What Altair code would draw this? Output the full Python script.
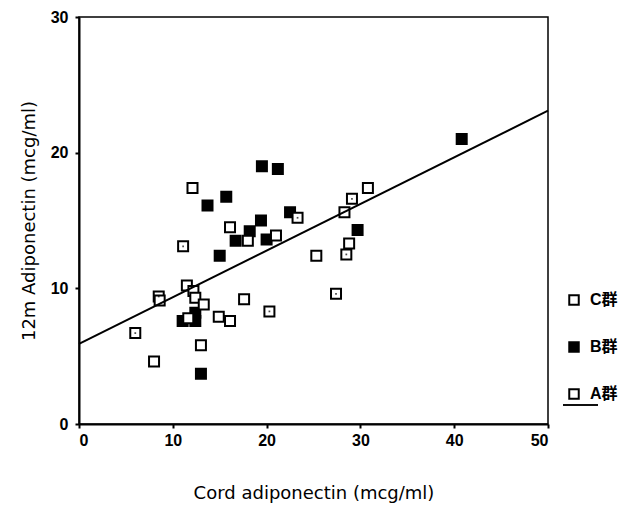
import altair as alt
import pandas as pd

# Group B (filled squares)
b_x = [40.8, 19.5, 21.2, 15.7, 13.7, 22.5, 19.4, 18.2, 16.7, 20.0, 15.0, 29.7, 12.4, 12.4, 11.05, 13.0]
b_y = [21.0, 19.0, 18.8, 16.75, 16.1, 15.6, 15.0, 14.2, 13.5, 13.6, 12.4, 14.3, 8.2, 7.6, 7.6, 3.7]

# Group C (open squares with a dot)
c_x = [23.3, 11.1, 20.3, 6.0, 29.1, 28.5, 27.4, 8.5]
c_y = [15.2, 13.1, 8.3, 6.7, 16.6, 12.5, 9.6, 9.4]

# Group A (open squares)
a_x = [12.1, 16.1, 18.0, 21.0, 25.3, 11.5, 12.2, 12.4, 13.3, 8.6, 17.6, 14.9, 16.1, 11.65, 13.0, 8.0, 30.8, 28.3, 28.8]
a_y = [17.4, 14.5, 13.5, 13.9, 12.4, 10.2, 9.8, 9.3, 8.8, 9.1, 9.2, 7.9, 7.6, 7.8, 5.8, 4.6, 17.4, 15.6, 13.3]

# Regression line end points
line_x = [0, 50]
line_y = [5.9, 23.1]

groups = ["C群", "B群", "A群"]
fills = ["white", "black", "white"]

rows = []
for g, xs, ys in [("C群", c_x, c_y), ("B群", b_x, b_y), ("A群", a_x, a_y)]:
    for xv, yv in zip(xs, ys):
        rows.append({"x": xv, "y": yv, "group": g})
pts = pd.DataFrame(rows)
order_map = {"B群": 0, "C群": 1, "A群": 2}
pts["ord"] = pts["group"].map(order_map)
pts = pts.sort_values("ord")

line_df = pd.DataFrame({"x": line_x, "y": line_y})

FONT = "Liberation Sans, Noto Sans CJK JP"
TFONT = "DejaVu Sans"

xscale = alt.Scale(domain=[0, 50], nice=False, zero=True)
yscale = alt.Scale(domain=[0, 30], nice=False, zero=True)

xaxis = alt.Axis(values=[0, 10, 20, 30, 40, 50], title="Cord adiponectin (mcg/ml)",
                 grid=False, tickSize=4, tickWidth=2, labelPadding=4,
                 titlePadding=36)
yaxis = alt.Axis(values=[0, 10, 20, 30], title="12m Adiponectin (mcg/ml)",
                 grid=False, tickSize=4, tickWidth=2, labelPadding=7,
                 titlePadding=12)

reg = alt.Chart(line_df).mark_line(color="black", strokeWidth=2).encode(
    x=alt.X("x:Q", scale=xscale, axis=xaxis),
    y=alt.Y("y:Q", scale=yscale, axis=yaxis),
)

points = alt.Chart(pts).mark_point(shape="square", filled=True, stroke="black",
                                   strokeWidth=2, size=100, opacity=1).encode(
    x=alt.X("x:Q", scale=xscale),
    y=alt.Y("y:Q", scale=yscale),
    fill=alt.Fill("group:N", scale=alt.Scale(domain=groups, range=fills),
                  legend=alt.Legend(title=None, orient="none", legendX=487, legendY=275,
                                    symbolType="square", symbolSize=90,
                                    symbolStrokeColor="black", symbolStrokeWidth=2,
                                    labelFontSize=16, labelFont=FONT, labelFontWeight="bold",
                                    labelColor="black", rowPadding=29, labelOffset=8)),
    order=alt.Order("ord:Q"),
)

dots = alt.Chart(pts[pts["group"] == "C群"]).mark_point(shape="square", filled=True,
                                                        color="black", size=3).encode(
    x=alt.X("x:Q", scale=xscale),
    y=alt.Y("y:Q", scale=yscale),
)

legend_line = alt.Chart(line_df).mark_rule(color="black", strokeWidth=1.5).encode(
    x=alt.value(484), x2=alt.value(519), y=alt.value(388)
)

chart = alt.layer(points, dots, reg, legend_line).properties(
    width=469, height=407,
    autosize=alt.AutoSizeParams(type="none"),
    padding={"left": 79, "top": 17, "right": 73, "bottom": 88},
    background="white",
).configure_view(
    stroke="black", strokeWidth=1.5
).configure_axis(
    domainColor="black", domainWidth=2, tickColor="black",
    labelFont=FONT, labelFontSize=16, labelFontWeight="bold", labelColor="black",
    titleFont=TFONT, titleFontSize=18, titleFontWeight="normal", titleColor="black",
)

chart.save("out.html", embed_options={"renderer": "svg", "actions": False})
